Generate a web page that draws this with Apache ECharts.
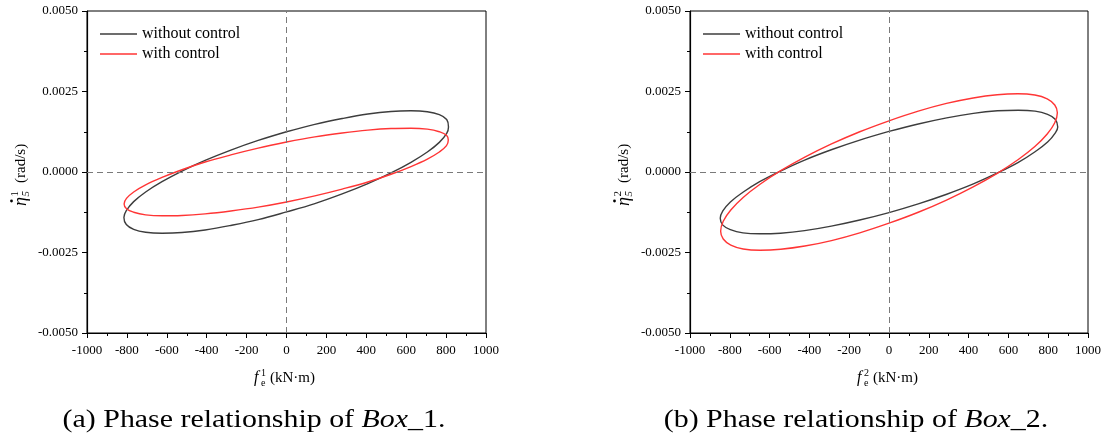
<!DOCTYPE html>
<html>
<head>
<meta charset="utf-8">
<script src="https://cdn.jsdelivr.net/npm/echarts/dist/echarts.min.js"></script>
<style>
  html, body { margin: 0; padding: 0; background: #fff; }
  #chart { width: 1115px; height: 438px; }
</style>
</head>
<body>
<div id="chart"></div>
<script>
// Series names
const seriesNames = ['without control', 'with control'];

// Phase loops (f_e in kN·m, eta-dot in rad/s) for Box_1
const box1Without = [
  [0, 0.00125], [-142, 0.00098], [-279, 0.00068], [-408, 0.00036], [-524, 0.00003],
  [-624, -0.00030], [-706, -0.00062], [-766, -0.00092], [-803, -0.00120], [-815, -0.00141],
  [-803, -0.00163], [-766, -0.00178], [-706, -0.00187], [-624, -0.00190], [-524, -0.00188],
  [-408, -0.00180], [-279, -0.00166], [-142, -0.00148], [0, -0.00124], [142, -0.00098],
  [279, -0.00068], [408, -0.00036], [524, -0.00003], [624, 0.00030], [706, 0.00062],
  [766, 0.00092], [803, 0.00120], [812, 0.00140], [803, 0.00163], [766, 0.00178],
  [706, 0.00187], [624, 0.00190], [524, 0.00188], [408, 0.00180], [279, 0.00166],
  [142, 0.00148], [0, 0.00125]
];
const box1With = [
  [0, 0.00093], [-142, 0.00074], [-279, 0.00053], [-408, 0.00031], [-524, 0.00007],
  [-624, -0.00017], [-706, -0.00040], [-766, -0.00062], [-802, -0.00082], [-814, -0.00099],
  [-802, -0.00114], [-766, -0.00125], [-706, -0.00133], [-624, -0.00136], [-524, -0.00135],
  [-408, -0.00130], [-279, -0.00121], [-142, -0.00109], [0, -0.00093], [142, -0.00074],
  [279, -0.00053], [408, -0.00031], [524, -0.00007], [624, 0.00017], [706, 0.00040],
  [766, 0.00062], [802, 0.00082], [811, 0.00099], [802, 0.00114], [766, 0.00125],
  [706, 0.00133], [624, 0.00136], [524, 0.00135], [408, 0.00130], [279, 0.00121],
  [142, 0.00109], [0, 0.00093]
];

// Phase loops for Box_2
const box2Without = [
  [0, 0.00126], [-147, 0.00099], [-290, 0.00069], [-424, 0.00037], [-545, 0.00003],
  [-650, -0.00030], [-734, -0.00063], [-797, -0.00093], [-835, -0.00121], [-848, -0.00144],
  [-835, -0.00165], [-797, -0.00179], [-734, -0.00189], [-650, -0.00192], [-545, -0.00190],
  [-424, -0.00182], [-290, -0.00168], [-147, -0.00149], [0, -0.00126], [147, -0.00099],
  [290, -0.00069], [424, -0.00037], [545, -0.00003], [650, 0.00030], [734, 0.00063],
  [797, 0.00093], [835, 0.00121], [848, 0.00140], [835, 0.00164], [797, 0.00179],
  [734, 0.00189], [650, 0.00192], [545, 0.00190], [424, 0.00182], [290, 0.00168],
  [147, 0.00149], [0, 0.00126]
];
const box2With = [
  [0, 0.00159], [-147, 0.00125], [-289, 0.00087], [-423, 0.00046], [-544, 0.00004],
  [-648, -0.00038], [-733, -0.00079], [-795, -0.00118], [-833, -0.00153], [-846, -0.00184],
  [-833, -0.00208], [-795, -0.00227], [-733, -0.00239], [-648, -0.00243], [-544, -0.00240],
  [-423, -0.00230], [-289, -0.00213], [-147, -0.00189], [0, -0.00159], [147, -0.00125],
  [289, -0.00087], [423, -0.00046], [544, -0.00004], [648, 0.00038], [733, 0.00079],
  [795, 0.00118], [833, 0.00153], [846, 0.00184], [833, 0.00208], [795, 0.00227],
  [733, 0.00239], [648, 0.00243], [544, 0.00240], [423, 0.00230], [289, 0.00213],
  [147, 0.00189], [0, 0.00159]
];

// Axis ranges
const xRange = { min: -1000, max: 1000, interval: 200 };
const yRange = { min: -0.005, max: 0.005, interval: 0.0025 };

// Panel captions
const captions = [
  { tag: '(a) Phase relationship of ', box: 'Box', idx: '_1.' },
  { tag: '(b) Phase relationship of ', box: 'Box', idx: '_2.' }
];
const xTitleSup = ['1', '2'];
const yTitleSup = ['1', '2'];

const SERIF = '"Liberation Serif", "Times New Roman", serif';
const BLACK_LINE = '#3d3d3d';
const RED_LINE = '#ff3535';

const chart = echarts.init(document.getElementById('chart'), null, { renderer: 'canvas' });

const grids = [
  { left: 87, top: 11, width: 399, height: 322 },
  { left: 690, top: 11, width: 398, height: 322 }
];

function xAxisFor(i) {
  return {
    gridIndex: i, type: 'value',
    min: xRange.min, max: xRange.max, interval: xRange.interval,
    axisLine: { show: true, onZero: false, lineStyle: { color: '#000', width: 1.2 } },
    axisTick: { show: true, inside: false, length: 5, lineStyle: { color: '#000', width: 1 } },
    minorTick: { show: true, splitNumber: 2, length: 3, lineStyle: { color: '#000', width: 1 } },
    splitLine: { show: false },
    axisLabel: { color: '#000', fontFamily: SERIF, fontSize: 13, margin: 11, formatter: v => String(v) }
  };
}
function yAxisFor(i) {
  return {
    gridIndex: i, type: 'value',
    min: yRange.min, max: yRange.max, interval: yRange.interval,
    axisLine: { show: true, onZero: false, lineStyle: { color: '#000', width: 1.2 } },
    axisTick: { show: true, inside: false, length: 5, lineStyle: { color: '#000', width: 1 } },
    minorTick: { show: true, splitNumber: 2, length: 3, lineStyle: { color: '#000', width: 1 } },
    splitLine: { show: false },
    axisLabel: {
      color: '#000', fontFamily: SERIF, fontSize: 13, margin: 9,
      formatter: v => (Math.abs(v) < 1e-9 ? 0 : v).toFixed(4)
    }
  };
}

const crossLines = {
  silent: true, symbol: ['none', 'none'], animation: false,
  label: { show: false },
  lineStyle: { color: '#7a7a7a', type: [6, 4], width: 1 },
  data: [{ xAxis: 0 }, { yAxis: 0 }]
};

function loopSeries(name, data, i, color, withCross) {
  const s = {
    name, type: 'line', xAxisIndex: i, yAxisIndex: i, data,
    symbol: 'none', smooth: 0.4, animation: false,
    lineStyle: { color, width: 1.4 }, itemStyle: { color }
  };
  if (withCross) s.markLine = crossLines;
  return s;
}

function txt(x, y, text, font, align) {
  return {
    type: 'text', x, y, silent: true,
    style: { text, x: 0, y: 0, font, fill: '#000',
      textAlign: align || 'left', textVerticalAlign: 'middle',
      align: align || 'left', verticalAlign: 'middle' }
  };
}

function xTitle(cx, cy, sup) {
  return {
    type: 'group', x: cx, y: cy, silent: true,
    children: [
      txt(-32, 0, 'f', 'italic 16px ' + SERIF),
      txt(-25, -5, sup, '10px ' + SERIF),
      txt(-25, 5, 'e', '10px ' + SERIF),
      txt(-16, 0, '(kN·m)', '15px ' + SERIF)
    ]
  };
}

function yTitle(cx, cy, sup) {
  return {
    type: 'group', x: cx, y: cy, rotation: Math.PI / 2, silent: true,
    children: [
      txt(-34, 0, 'η', 'italic 18px ' + SERIF),
      { type: 'circle', silent: true, shape: { cx: -29, cy: -9.5, r: 1.4 }, style: { fill: '#000' } },
      txt(-24.5, -6, sup, '11px ' + SERIF),
      txt(-24.5, 5, '5', 'italic 11px ' + SERIF),
      txt(-11, 0, '(rad/s)', '15px ' + SERIF)
    ]
  };
}

function caption(cx, cy, c) {
  return {
    type: 'group', x: cx, y: cy, scaleX: 1.15, silent: true,
    children: [{
      type: 'text', x: 0, y: 0, silent: true,
      style: {
        text: '{r|' + c.tag + '}{i|' + c.box + '}{r|' + c.idx + '}',
        textAlign: 'center', textVerticalAlign: 'middle',
        align: 'center', verticalAlign: 'middle',
        rich: {
          r: { fontFamily: SERIF, fontSize: 26, fill: '#000', color: '#000' },
          i: { fontFamily: SERIF, fontSize: 26, fontStyle: 'italic', fill: '#000', color: '#000' }
        }
      }
    }]
  };
}

const legendBase = {
  orient: 'vertical', icon: 'rect', itemWidth: 37, itemHeight: 1.5, itemGap: 2, padding: 0,
  data: seriesNames, selectedMode: false,
  textStyle: { color: '#000', fontFamily: SERIF, fontSize: 16, lineHeight: 18 }
};

const option = {
  backgroundColor: '#fff',
  animation: false,
  grid: grids.map(g => Object.assign({ show: true, borderColor: '#000', borderWidth: 1, backgroundColor: 'transparent' }, g)),
  xAxis: [xAxisFor(0), xAxisFor(1)],
  yAxis: [yAxisFor(0), yAxisFor(1)],
  legend: [
    Object.assign({ left: 100, top: 25 }, legendBase),
    Object.assign({ left: 703, top: 25 }, legendBase)
  ],
  series: [
    loopSeries(seriesNames[0], box1Without, 0, BLACK_LINE, true),
    loopSeries(seriesNames[1], box1With, 0, RED_LINE, false),
    loopSeries(seriesNames[0], box2Without, 1, BLACK_LINE, true),
    loopSeries(seriesNames[1], box2With, 1, RED_LINE, false)
  ],
  graphic: [
    xTitle(286, 378, xTitleSup[0]),
    xTitle(889, 378, xTitleSup[1]),
    yTitle(21, 172, yTitleSup[0]),
    yTitle(624, 172, yTitleSup[1]),
    caption(254, 420, captions[0]),
    caption(856, 420, captions[1])
  ]
};

chart.setOption(option);
</script>
</body>
</html>
